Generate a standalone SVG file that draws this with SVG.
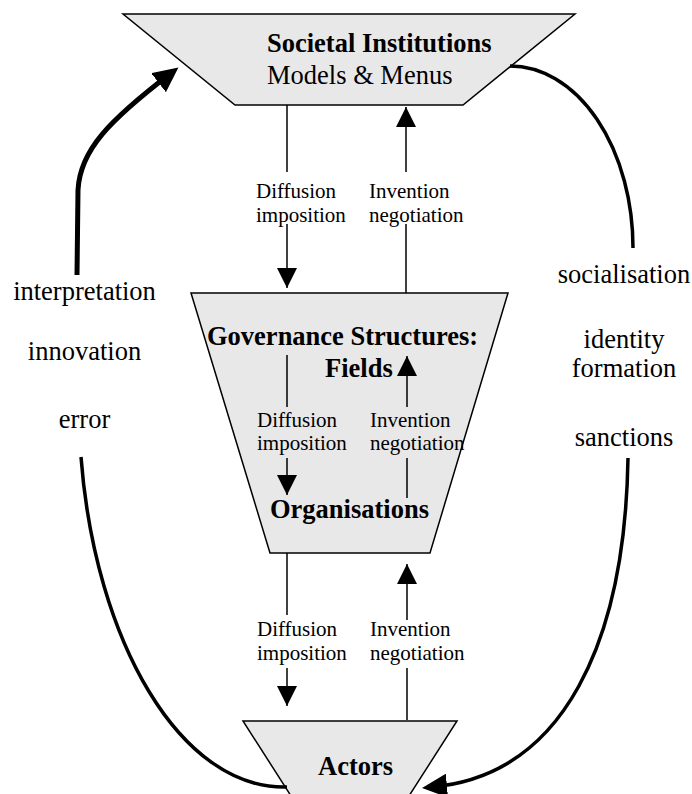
<svg xmlns="http://www.w3.org/2000/svg" width="692" height="794" viewBox="0 0 692 794">
  <style>
    .shape { fill: #e8e8e8; stroke: #000; stroke-width: 1.5; }
    .title { font-family: "Liberation Serif", "Times New Roman", serif; font-size: 26.5px; font-weight: bold; fill: #000; }
    .sub { font-family: "Liberation Serif", "Times New Roman", serif; font-size: 26.5px; fill: #000; }
    .lbl { font-family: "Liberation Serif", "Times New Roman", serif; font-size: 21px; fill: #000; }
    .side { font-family: "Liberation Serif", "Times New Roman", serif; font-size: 26.5px; fill: #000; text-anchor: middle; }
    .flow { fill: none; stroke: #000; stroke-width: 1.5; }
    .loop { fill: none; stroke: #000; stroke-width: 3.5; }
    .loopBold { fill: none; stroke: #000; stroke-width: 5; }
  </style>
  <defs>
    <marker id="ah" markerUnits="userSpaceOnUse" markerWidth="20" markerHeight="20" refX="20" refY="10" orient="auto">
      <path d="M0,0 L20,10 L0,20 z" fill="#000"/>
    </marker>
    <marker id="ahBig" markerUnits="userSpaceOnUse" markerWidth="26" markerHeight="24" refX="15" refY="12" orient="auto">
      <path d="M0,0 L25,12 L0,24 z" fill="#000"/>
    </marker>
  </defs>

  <!-- Societal institutions -->
  <g id="societal">
    <polygon class="shape" points="123,14 575,14 463,105 235,105"/>
    <text class="title" x="267" y="52">Societal Institutions</text>
    <text class="sub" x="267" y="84">Models &amp; Menus</text>
  </g>

  <!-- Governance structures / organisations -->
  <g id="governance">
    <polygon class="shape" points="191,293 508,293 430,553 270,553"/>
    <text class="title" x="207" y="345">Governance Structures:</text>
    <text class="title" x="325" y="377">Fields</text>
    <text class="title" x="270" y="518">Organisations</text>
  </g>

  <!-- Actors -->
  <g id="actors">
    <polygon class="shape" points="243,721 457,721 400,810 300,810"/>
    <text class="title" x="318" y="775">Actors</text>
  </g>

  <!-- Connectors -->
  <g id="connectors">
    <!-- societal -> fields -->
    <line class="flow" x1="287" y1="105" x2="287" y2="172"/>
    <line class="flow" x1="287" y1="224" x2="287" y2="288" marker-end="url(#ah)"/>
    <!-- fields -> societal -->
    <line class="flow" x1="406" y1="293" x2="406" y2="224"/>
    <line class="flow" x1="406" y1="172" x2="406" y2="107" marker-end="url(#ah)"/>
    <!-- fields -> organisations -->
    <line class="flow" x1="287" y1="355" x2="287" y2="407"/>
    <line class="flow" x1="287" y1="458" x2="287" y2="495" marker-end="url(#ah)"/>
    <!-- organisations -> fields -->
    <line class="flow" x1="407" y1="498" x2="407" y2="458"/>
    <line class="flow" x1="407" y1="407" x2="407" y2="356" marker-end="url(#ah)"/>
    <!-- organisations -> actors -->
    <line class="flow" x1="287" y1="553" x2="287" y2="615"/>
    <line class="flow" x1="287" y1="668" x2="287" y2="706" marker-end="url(#ah)"/>
    <!-- actors -> organisations -->
    <line class="flow" x1="407" y1="720" x2="407" y2="668"/>
    <line class="flow" x1="407" y1="620" x2="407" y2="564" marker-end="url(#ah)"/>

    <!-- outer loop: actors back up to societal institutions -->
    <path class="loop" d="M81,457 C95,640 180,790 287,787"/>
    <path class="loopBold" d="M77,275 L78,190 C80,150 110,120 170.5,73.6" marker-end="url(#ahBig)"/>
    <!-- outer loop: societal institutions down to actors -->
    <path class="loop" d="M510,66 A123,182 0 0 1 633,248"/>
    <path class="loop" d="M628,458 C625,640 565,775 432,787" marker-end="url(#ahBig)"/>
  </g>

  <!-- Flow labels -->
  <g id="flow-labels">
    <text class="lbl" x="256" y="198">Diffusion</text>
    <text class="lbl" x="256" y="222">imposition</text>
    <text class="lbl" x="369" y="198">Invention</text>
    <text class="lbl" x="369" y="222">negotiation</text>

    <text class="lbl" x="257" y="427">Diffusion</text>
    <text class="lbl" x="257" y="450">imposition</text>
    <text class="lbl" x="370" y="427">Invention</text>
    <text class="lbl" x="370" y="450">negotiation</text>

    <text class="lbl" x="257" y="636">Diffusion</text>
    <text class="lbl" x="257" y="660">imposition</text>
    <text class="lbl" x="370" y="636">Invention</text>
    <text class="lbl" x="370" y="660">negotiation</text>
  </g>

  <!-- Loop labels -->
  <g id="loop-labels">
    <text class="side" x="84.5" y="300">interpretation</text>
    <text class="side" x="84.5" y="360">innovation</text>
    <text class="side" x="84.5" y="428">error</text>

    <text class="side" x="624" y="283">socialisation</text>
    <text class="side" x="624" y="348">identity</text>
    <text class="side" x="624" y="377">formation</text>
    <text class="side" x="624" y="446">sanctions</text>
  </g>
</svg>
